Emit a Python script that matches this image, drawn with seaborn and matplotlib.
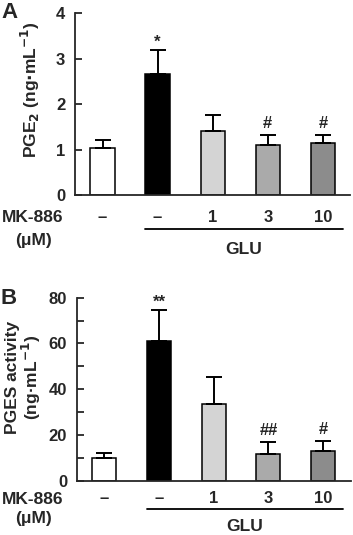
import numpy as np
import pandas as pd
import matplotlib
matplotlib.use('Agg')
import matplotlib.pyplot as plt
import seaborn as sns

# data
groups = ['ctrl', 'glu', 'mk1', 'mk3', 'mk10']
mk_labels = ['\u2013', '\u2013', '1', '3', '10']
bar_colors = ['#ffffff', '#000000', '#d4d4d4', '#aaaaaa', '#8c8c8c']

pge2_mean = [1.03, 2.66, 1.41, 1.10, 1.15]
pge2_err = [0.18, 0.53, 0.36, 0.22, 0.17]
pge2_sig = ['', '*', '', '#', '#']

pges_mean = [9.8, 61.2, 33.5, 11.6, 13.1]
pges_err = [2.1, 13.4, 11.7, 5.3, 4.4]
pges_sig = ['', '**', '', '##', '#']

sns.set_style('white')
plt.rcParams['font.family'] = ['Liberation Sans', 'DejaVu Sans']
plt.rcParams['font.weight'] = 'bold'
plt.rcParams['mathtext.default'] = 'bf'

fig = plt.figure(figsize=(3.53, 5.35), dpi=100)
axA = fig.add_axes([0.2125, 0.6355, 0.78, 0.340])
axB = fig.add_axes([0.218, 0.1015, 0.775, 0.342])


def draw_panel(ax, means, errs, sigs, ymax, major, minor, offs):
    df = pd.DataFrame({'group': groups, 'value': means})
    sns.barplot(data=df, x='group', y='value', hue='group', palette=bar_colors,
                width=0.44, edgecolor='black', linewidth=1.1, legend=False, ax=ax)
    xs = np.arange(len(groups))
    ax.errorbar(xs, means, yerr=[np.zeros(len(errs)), errs], fmt='none',
                ecolor='black', elinewidth=1.4, capsize=5.5, capthick=1.4, zorder=1)
    for x, m, e, s in zip(xs, means, errs, sigs):
        if s:
            dy = 0 if '*' in s else 3
            ax.annotate(s, (x, m + e), xytext=(0, dy), textcoords='offset points',
                        ha='center', va='bottom', fontsize=12, fontweight='bold')
    ax.set_xlim(-0.5, 4.5)
    ax.set_ylim(0, ymax)
    ax.set_yticks(major)
    ax.set_yticks(minor, minor=True)
    ax.tick_params(axis='y', which='both', direction='in', length=5, width=1.3,
                   left=True, labelsize=12, pad=7)
    ax.set_xticks(xs)
    ax.set_xticklabels([])
    ax.tick_params(axis='x', length=0)
    for lab in ax.get_yticklabels():
        lab.set_fontweight('bold')
    sns.despine(ax=ax)
    ax.spines['left'].set_linewidth(1.3)
    ax.spines['bottom'].set_linewidth(1.3)
    ax.set_xlabel('')
    ax.set_ylabel('')

    tl, ln, glu, mk, um = offs
    tr = ax.get_xaxis_transform()
    for x, lab in zip(xs, mk_labels):
        ax.text(x, tl, lab, transform=tr, ha='center', va='center',
                fontsize=12, fontweight='bold')
    ax.plot([0.78, 4.36], [ln, ln], transform=tr, color='black', lw=1.3,
            clip_on=False)
    ax.text(2.57, glu, 'GLU', transform=tr, ha='center', va='center',
            fontsize=12.5, fontweight='bold')
    fig.text(33 / 353, mk, 'MK-886', ha='center', va='center',
             fontsize=12.5, fontweight='bold')
    fig.text(33 / 353, um, '(\u03bcM)', ha='center', va='center',
             fontsize=12.5, fontweight='bold')


draw_panel(axA, pge2_mean, pge2_err, pge2_sig, 4, [0, 1, 2, 3, 4], [],
           (-0.121, -0.187, -0.302, 1 - 218 / 535, 1 - 240 / 535))
draw_panel(axB, pges_mean, pges_err, pges_sig, 80, [0, 20, 40, 60, 80],
           [10, 30, 50, 70], (-0.098, -0.156, -0.251, 1 - 499 / 535, 1 - 518 / 535))

fig.text(30 / 353, 1 - 90 / 535, r'PGE$_2$ (ng$\cdot$mL$^{-1}$)', rotation=90,
         ha='center', va='center', fontsize=12.5, fontweight='bold')
fig.text(24 / 353, 1 - 377 / 535, 'PGES activity\n(ng\u00b7mL$^{-1}$)', rotation=90,
         ha='center', va='center', fontsize=12.5, fontweight='bold',
         linespacing=1.0)
fig.text(10 / 353, 1 - 12 / 535, 'A', ha='center', va='center', fontsize=16,
         fontweight='bold')
fig.text(9 / 353, 1 - 298 / 535, 'B', ha='center', va='center', fontsize=16,
         fontweight='bold')

fig.savefig('out.png', dpi=100)
